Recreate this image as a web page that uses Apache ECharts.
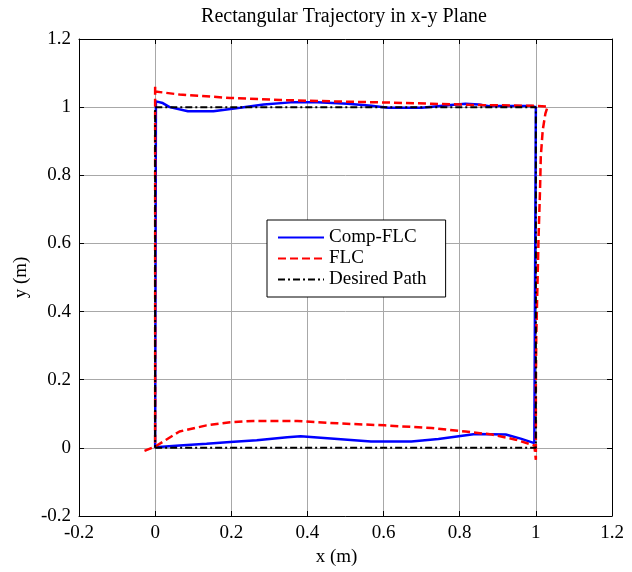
<!DOCTYPE html>
<html>
<head>
<meta charset="utf-8">
<script src="https://cdn.jsdelivr.net/npm/echarts@6/dist/echarts.min.js"></script>
<style>
  html, body { margin: 0; padding: 0; background: #fff; }
  #chart { width: 632px; height: 572px; }
</style>
</head>
<body>
<div id="chart"></div>
<script>
// Comp-FLC trajectory (x, y in m)
var compX = [0.0, 0.064, 0.135, 0.197, 0.267, 0.347, 0.382, 0.479, 0.567, 0.673, 0.744, 0.841, 0.921, 0.96, 0.996, 1.0,
  1.0, 0.991, 0.877, 0.85, 0.815, 0.762, 0.7, 0.612, 0.568, 0.506, 0.426, 0.356, 0.285, 0.223, 0.153, 0.086, 0.038, 0.02, 0.002, 0.0, 0.0]
var compY = [0.002, 0.007, 0.012, 0.017, 0.022, 0.031, 0.034, 0.026, 0.019, 0.019, 0.026, 0.041, 0.039, 0.027, 0.014, 0.01,
  1.0, 1.003, 1.003, 1.008, 1.01, 1.005, 0.998, 0.998, 1.004, 1.01, 1.014, 1.014, 1.008, 0.998, 0.988, 0.988, 1.0, 1.012, 1.017, 1.017, 0.0]

// FLC trajectory
var flcX = [-0.028, 0.0, 0.064, 0.135, 0.197, 0.258, 0.373, 0.479, 0.603, 0.726, 0.815, 0.885, 0.947, 0.996, 1.0,
  1.0, 1.001, 1.003, 1.005, 1.007, 1.011, 1.013, 1.018, 1.025, 1.031,
  0.991, 0.858, 0.726, 0.594, 0.461, 0.329, 0.197, 0.064, 0.0, 0.0, 0.0]
var flcY = [-0.009, 0.004, 0.048, 0.066, 0.075, 0.079, 0.079, 0.072, 0.066, 0.058, 0.048, 0.039, 0.024, 0.007, -0.035,
  0.179, 0.324, 0.42, 0.517, 0.614, 0.759, 0.855, 0.932, 0.981, 1.002,
  1.004, 1.006, 1.01, 1.014, 1.017, 1.021, 1.027, 1.037, 1.046, 1.06, 0.0]

// desired rectangle
var pathX = [0, 1, 1, 0, 0]
var pathY = [0, 0, 1, 1, 0]

var names = ['Comp-FLC', 'FLC', 'Desired Path']
var axisMin = -0.2
var axisMax = 1.2
var step = 0.2

function pairs(xs, ys) {
  var out = []
  for (var i = 0; i < xs.length; i++) out.push([xs[i], ys[i]])
  return out
}

var font = 'Liberation Serif'
var chart = echarts.init(document.getElementById('chart'), null, { renderer: 'canvas' })

var tickStyle = { show: true, inside: true, length: 5, lineStyle: { color: '#000' } }
var lineAxis = { show: true, onZero: false, lineStyle: { color: '#000', width: 1 } }
var labelStyle = { color: '#000', fontFamily: font, fontSize: 19, margin: 8 }

chart.setOption({
  animation: false,
  backgroundColor: '#fff',
  title: {
    text: 'Rectangular Trajectory in x-y Plane',
    left: 344,
    top: 7,
    padding: 0,
    textAlign: 'center',
    textStyle: { fontFamily: font, fontSize: 20, fontWeight: 'normal', color: '#000' }
  },
  legend: {
    data: names,
    orient: 'vertical',
    left: 267,
    top: 220,
    padding: [8, 19, 8, 10],
    itemWidth: 46,
    itemHeight: 14,
    itemGap: 2,
    borderColor: '#000',
    borderWidth: 1,
    borderRadius: 0,
    backgroundColor: '#fff',
    itemStyle: { opacity: 0 },
    textStyle: { fontFamily: font, fontSize: 19, color: '#000' }
  },
  grid: { left: 79, right: 20, top: 39, bottom: 51, containLabel: false },
  xAxis: [{
    type: 'value', min: axisMin, max: axisMax, interval: step,
    name: 'x (m)', nameLocation: 'middle', nameGap: 32,
    nameTextStyle: { fontFamily: font, fontSize: 19, color: '#000', padding: [0, 18, 0, 0] },
    axisLine: lineAxis, axisTick: tickStyle, axisLabel: labelStyle,
    splitLine: { show: true, lineStyle: { color: '#a8a8a8', width: 1 } }
  }, {
    type: 'value', min: axisMin, max: axisMax, interval: step, position: 'top',
    axisLine: lineAxis, axisTick: tickStyle, axisLabel: { show: false }, splitLine: { show: false }
  }],
  yAxis: [{
    type: 'value', min: axisMin, max: axisMax, interval: step,
    name: 'y (m)', nameLocation: 'middle', nameGap: 40,
    nameTextStyle: { fontFamily: font, fontSize: 19, color: '#000' },
    axisLine: lineAxis, axisTick: tickStyle, axisLabel: labelStyle,
    splitLine: { show: true, lineStyle: { color: '#a8a8a8', width: 1 } }
  }, {
    type: 'value', min: axisMin, max: axisMax, interval: step, position: 'right',
    axisLine: lineAxis, axisTick: tickStyle, axisLabel: { show: false }, splitLine: { show: false }
  }],
  series: [{
    name: names[0], type: 'line', symbol: 'none', data: pairs(compX, compY),
    lineStyle: { color: '#0000ff', width: 2.5, type: 'solid' }, itemStyle: { color: '#0000ff' }
  }, {
    name: names[1], type: 'line', symbol: 'none', data: pairs(flcX, flcY),
    lineStyle: { color: '#ff0000', width: 2.5, type: [8, 4] }, itemStyle: { color: '#ff0000' }
  }, {
    name: names[2], type: 'line', symbol: 'none', data: pairs(pathX, pathY),
    lineStyle: { color: '#000', width: 2, type: [7, 3, 2, 3] }, itemStyle: { color: '#000' }
  }]
})
</script>
</body>
</html>
